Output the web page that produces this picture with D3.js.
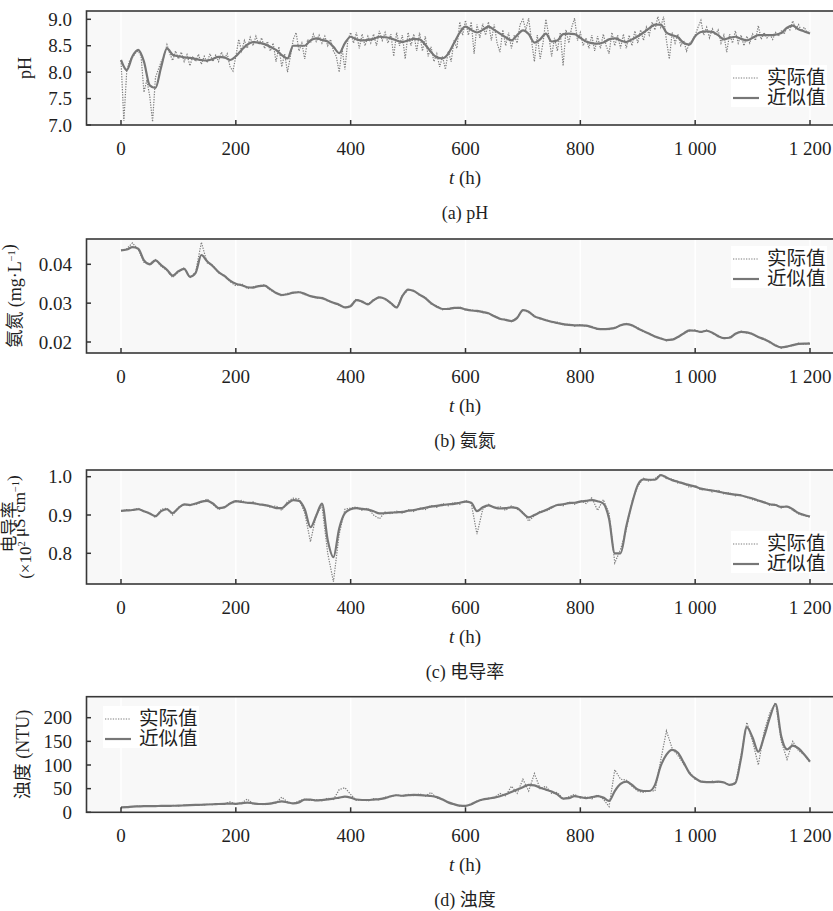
<!DOCTYPE html>
<html><head><meta charset="utf-8">
<script src="https://cdn.jsdelivr.net/npm/d3@7"></script>
<style>
body{margin:0;background:#fff}
svg{display:block}
text{font-family:"Liberation Serif","Times New Roman","Noto Sans CJK SC",serif;fill:#1f1f1f}
</style>
</head><body>
<svg id="chart" width="833" height="911"></svg>
<script>
// ---------------- DATA ----------------
const xTicks = [0, 200, 400, 600, 800, 1000, 1200];
const seriesNames = ["实际值", "近似值"];

// (a) pH — actual every 5 h, approximation every 10 h
const phActual = [
8.22,7.08,8.02,8.22,8.28,8.36,8.40,8.30,7.62,7.85,7.55,7.06,7.90,8.05,8.20,8.30,8.52,8.35,8.22,8.40,8.25,
8.38,8.20,8.33,8.12,8.30,8.20,8.34,8.15,8.30,8.18,8.35,8.20,8.32,8.20,8.38,8.25,8.35,8.10,8.02,8.30,
8.62,8.40,8.60,8.45,8.66,8.50,8.68,8.52,8.65,8.45,8.58,8.40,8.55,8.20,8.48,8.10,8.35,8.00,8.30,8.62,
8.75,8.40,8.55,8.25,8.62,8.55,8.72,8.58,8.70,8.55,8.68,8.50,8.62,8.40,8.30,8.00,8.45,8.05,8.60,8.75,
8.55,8.75,8.45,8.72,8.50,8.68,8.55,8.72,8.50,8.78,8.60,8.75,8.55,8.72,8.30,8.75,8.50,8.70,8.25,8.75,
8.50,8.72,8.40,8.75,8.40,8.68,8.30,8.48,8.20,8.35,8.10,8.30,8.05,8.40,8.20,8.60,8.45,8.95,8.70,8.98,
8.70,8.95,8.35,8.90,8.65,8.92,8.70,8.95,8.60,8.90,8.55,8.38,8.80,8.50,8.75,8.45,8.70,8.55,8.90,9.00,
8.80,9.02,8.60,8.20,8.70,8.25,8.55,9.00,8.70,8.30,8.65,8.40,8.75,8.12,8.80,8.55,8.85,9.02,8.60,8.75,
8.50,8.65,8.45,8.70,8.40,8.68,8.45,8.72,8.50,8.35,8.75,8.50,8.70,8.45,8.72,8.45,8.70,8.50,8.78,8.55,
8.80,8.60,8.85,8.70,8.95,8.80,9.05,8.85,9.05,8.60,8.25,8.75,8.55,8.72,8.50,8.60,8.40,8.55,8.60,8.70,
8.85,8.98,8.70,8.85,8.65,8.82,8.70,8.80,8.55,8.70,8.38,8.72,8.55,8.78,8.55,8.70,8.50,8.68,8.55,8.72,
8.60,8.88,8.62,8.75,8.65,8.72,8.62,8.75,8.68,8.78,8.72,8.85,8.80,8.97,8.82,8.90,8.78,8.85,8.75,8.78
];
const phApprox = [
8.23,
8.04,8.30,8.42,8.20,7.75,7.70,8.10,8.45,8.33,8.30,
8.28,8.27,8.25,8.23,8.22,8.25,8.29,8.28,8.23,8.30,
8.42,8.52,8.57,8.56,8.53,8.48,8.42,8.32,8.26,8.50,
8.50,8.50,8.60,8.64,8.61,8.58,8.48,8.36,8.55,8.67,
8.62,8.60,8.61,8.63,8.67,8.66,8.64,8.60,8.57,8.60,
8.63,8.62,8.52,8.38,8.28,8.26,8.35,8.55,8.75,8.86,
8.80,8.75,8.80,8.86,8.80,8.73,8.66,8.60,8.70,8.79,
8.72,8.56,8.62,8.73,8.58,8.60,8.72,8.73,8.72,8.65,
8.58,8.55,8.54,8.56,8.62,8.64,8.60,8.57,8.62,8.68,
8.75,8.83,8.90,8.90,8.75,8.70,8.66,8.55,8.52,8.68,
8.76,8.77,8.76,8.70,8.62,8.65,8.67,8.63,8.60,8.65,
8.70,8.70,8.70,8.71,8.74,8.84,8.88,8.81,8.77,8.73
];
const phTicks = [7.0, 7.5, 8.0, 8.5, 9.0];

// (b) 氨氮 — every 10 h
const nhActual = [
.0436,
.0440,.0455,.0438,.0405,.0402,.0412,.0395,.0384,.0366,.0380,
.0391,.0365,.0380,.0457,.0404,.0397,.0378,.0372,.0355,.0345,
.0350,.0337,.0342,.0345,.0347,.0333,.0328,.0318,.0325,.0326,
.0330,.0322,.0319,.0313,.0315,.0305,.0302,.0294,.0287,.0295,
.0311,.0302,.0299,.0306,.0317,.0309,.0302,.0286,.0320,.0333,
.0333,.0320,.0315,.0298,.0293,.0283,.0287,.0286,.0290,.0282,
.0283,.0278,.0279,.0272,.0268,.0258,.0259,.0252,.0264,.0283,
.0276,.0268,.0259,.0258,.0250,.0251,.0244,.0246,.0241,.0245,
.0240,.0240,.0232,.0235,.0232,.0238,.0241,.0248,.0241,.0237,
.0226,.0223,.0212,.0211,.0203,.0208,.0211,.0224,.0228,.0231,
.0224,.0231,.0222,.0217,.0208,.0213,.0219,.0228,.0223,.0222,
.0211,.0209,.0198,.0193,.0184,.0190,.0190,.0197,.0194,.0198
];
const nhApprox = [
.0436,
.0438,.0444,.0440,.0410,.0400,.0410,.0398,.0386,.0371,.0382,
.0388,.0368,.0378,.0424,.0408,.0395,.0380,.0370,.0358,.0350,
.0346,.0341,.0340,.0344,.0345,.0336,.0326,.0321,.0323,.0327,
.0328,.0324,.0318,.0315,.0313,.0307,.0301,.0296,.0289,.0292,
.0308,.0304,.0297,.0308,.0315,.0311,.0300,.0289,.0318,.0335,
.0331,.0322,.0313,.0300,.0291,.0285,.0285,.0288,.0288,.0284,
.0281,.0280,.0277,.0274,.0266,.0260,.0257,.0254,.0262,.0282,
.0278,.0266,.0261,.0256,.0252,.0249,.0246,.0244,.0243,.0243,
.0242,.0238,.0234,.0233,.0234,.0236,.0243,.0246,.0243,.0235,
.0228,.0221,.0214,.0209,.0205,.0206,.0213,.0222,.0230,.0229,
.0226,.0229,.0224,.0215,.0210,.0211,.0221,.0226,.0225,.0220,
.0213,.0207,.0200,.0191,.0186,.0188,.0192,.0195,.0196,.0196
];
const nhTicks = [0.02, 0.03, 0.04];

// (c) 电导率 — every 10 h
const ecActual = [
.910,
.914,.912,.918,.908,.906,.893,.915,.918,.900,.920,
.926,.928,.927,.933,.942,.928,.914,.922,.931,.934,
.938,.930,.934,.926,.928,.920,.924,.912,.935,.944,
.942,.905,.830,.900,.925,.800,.726,.850,.915,.918,
.921,.912,.918,.900,.890,.908,.903,.910,.905,.914,
.909,.918,.914,.925,.920,.930,.924,.933,.928,.938,
.930,.850,.915,.928,.918,.922,.912,.924,.915,.908,
.884,.898,.910,.910,.918,.928,.924,.934,.928,.938,
.930,.945,.912,.940,.905,.775,.810,.862,.935,.975,
.996,.988,.995,1.006,.995,.994,.983,.985,.972,.977,
.965,.968,.960,.965,.955,.958,.950,.953,.946,.940,
.936,.935,.925,.928,.918,.924,.912,.903,.898,.895
];
const ecApprox = [
.911,
.912,.913,.915,.910,.904,.897,.910,.915,.905,.918,
.928,.926,.930,.935,.937,.930,.918,.920,.930,.936,
.934,.932,.931,.928,.926,.923,.918,.918,.930,.939,
.937,.915,.868,.898,.930,.835,.790,.865,.905,.915,
.918,.916,.914,.910,.904,.905,.906,.907,.908,.911,
.913,.916,.919,.922,.924,.926,.928,.929,.932,.935,
.932,.910,.920,.925,.920,.917,.918,.920,.918,.905,
.894,.900,.907,.913,.920,.926,.928,.931,.932,.935,
.937,.939,.936,.930,.890,.800,.800,.870,.930,.978,
.993,.992,.992,1.004,.998,.991,.987,.982,.978,.974,
.969,.966,.964,.961,.958,.955,.953,.951,.947,.943,
.938,.933,.928,.926,.921,.922,.915,.905,.900,.896
];
const ecTicks = [0.8, 0.9, 1.0];

// (d) 浊度 — every 10 h
const tuActual = [
10,
11.5,12,13,12.5,13.5,13,14,13,14.5,13.5,
15,14.5,16,15,17,16,18.5,17.5,22,17,
20,28,18,18,16,19,20,32,22,18,
24,28,25,27,24,30,27,48,52,38,
25,27,24,29,26,32,33,37,34,38,
35,39,34,42,30,28,20,18,13,14,
16,24,26,30,31,40,35,55,40,70,
45,82,50,55,40,42,28,33,38,30,
33,28,37,28,12,90,70,68,55,45,
42,46,45,110,172,135,120,102,85,70,
66,63,66,63,65,57,60,120,190,150,
100,170,210,232,150,112,150,130,122,105
];
const tuApprox = [
10.6,
11,12,12.5,13,13,13.2,13.5,13.6,13.8,14,
14.5,15,15.5,16,16.5,17,17.5,18,18.5,18,
19,20.5,19,17.5,17.5,18.5,21,23,21,19,
21,27,27,25,26,27.5,29,31,33,31,
27,26,26,27,28,30,34,36,35,36,
37,36.5,35.5,34.5,32,27,21,17,14,13.5,
17,23,27,29,31,34,38,43,48,53,
58,57,52,48,44,38,29,30,34,32,
30,32,34,31,24,45,60,65,58,48,
45,45,58,98,122,132,126,105,83,72,
65,64,64,65,63,58,62,115,180,158,
128,160,200,229,160,133,141,135,122,107
];
const tuTicks = [0, 50, 100, 150, 200];

// ---------------- LAYOUT ----------------
const FONT = "'Liberation Serif','Times New Roman','Noto Sans CJK SC',serif";
const svg = d3.select("#chart");
const plotL = 86.5, plotR = 840;
const x = d3.scaleLinear().domain([0, 1200]).range([121, 810]);
const fmtX = d => d >= 1000 ? d3.format(",")(d).replace(",", " ") : String(d);

const panels = [
  { actual: phActual, aStep: 5, approx: phApprox, pStep: 10, top: 11, bottom: 125,
    domain: [7, 9], range: [125, 19.3], ticks: phTicks, fmt: d3.format(".1f"),
    legend: { x: 733, y: 84 }, caption: "(a) pH",
    title: [{ x: 31, size: 18, parts: [["pH"]] }] },
  { actual: nhActual, aStep: 10, approx: nhApprox, pStep: 10, top: 239, bottom: 353,
    domain: [0.02, 0.04], range: [342, 264.3], ticks: nhTicks, fmt: d3.format(".2f"),
    legend: { x: 733, y: 265 }, caption: "(b) 氨氮",
    title: [{ x: 21, size: 18, parts: [["氨氮 (mg·L"], ["−1", "sup"], [")"]] }] },
  { actual: ecActual, aStep: 10, approx: ecApprox, pStep: 10, top: 470, bottom: 584,
    domain: [0.8, 1.0], range: [553.3, 476.7], ticks: ecTicks, fmt: d3.format(".1f"),
    legend: { x: 733, y: 550 }, caption: "(c) 电导率",
    title: [{ x: 15, size: 17, parts: [["电导率"]] },
            { x: 31, size: 17, parts: [["(×10"], ["2", "sup"], [" μS·cm"], ["−1", "sup"], [")"]] }] },
  { actual: tuActual, aStep: 10, approx: tuApprox, pStep: 10, top: 696.7, bottom: 812.3,
    domain: [0, 200], range: [812.3, 717.7], ticks: tuTicks, fmt: d3.format("d"),
    legend: { x: 105, y: 725 }, caption: "(d) 浊度",
    title: [{ x: 29, size: 18, parts: [["浊度 (NTU)"]] }] }
];

const defs = svg.append("defs");

panels.forEach((p, i) => {
  const y = d3.scaleLinear().domain(p.domain).range(p.range);
  const g = svg.append("g").attr("font-family", FONT);
  const h = p.bottom - p.top;

  defs.append("clipPath").attr("id", "clip" + i)
    .append("rect").attr("x", plotL).attr("y", p.top).attr("width", plotR - plotL).attr("height", h);

  // background
  g.append("rect").attr("x", plotL).attr("y", p.top).attr("width", plotR - plotL).attr("height", h)
    .attr("fill", "#f8f8f8");
  // faint grid
  g.selectAll(".grid").data(xTicks).join("line")
    .attr("x1", d => x(d)).attr("x2", d => x(d)).attr("y1", p.top).attr("y2", p.bottom)
    .attr("stroke", "#ffffff").attr("stroke-width", 1.5);

  const plot = g.append("g").attr("clip-path", `url(#clip${i})`);
  const lineA = d3.line().x((d, j) => x(j * p.aStep)).y(d => y(d)).curve(d3.curveLinear);
  const lineP = d3.line().x((d, j) => x(j * p.pStep)).y(d => y(d)).curve(d3.curveMonotoneX);

  plot.append("path").datum(p.actual).attr("d", lineA)
    .attr("fill", "none").attr("stroke", "#7d7d7d").attr("stroke-width", 1.2)
    .attr("stroke-dasharray", "1.3,1.3");
  plot.append("path").datum(p.approx).attr("d", lineP)
    .attr("fill", "none").attr("stroke", "#777").attr("stroke-width", 2.2);

  // ticks (inward)
  g.selectAll(".xt").data(xTicks).join("line")
    .attr("x1", d => x(d)).attr("x2", d => x(d)).attr("y1", p.bottom).attr("y2", p.bottom - 5)
    .attr("stroke", "#333").attr("stroke-width", 1.5);
  g.selectAll(".yt").data(p.ticks).join("line")
    .attr("x1", plotL).attr("x2", plotL + 4.5).attr("y1", d => y(d)).attr("y2", d => y(d))
    .attr("stroke", "#333").attr("stroke-width", 1.5);

  // frame
  g.append("rect").attr("x", plotL).attr("y", p.top).attr("width", plotR - plotL).attr("height", h)
    .attr("fill", "none").attr("stroke", "#383838").attr("stroke-width", 1.6);

  // tick labels
  g.selectAll(".xl").data(xTicks).join("text")
    .attr("x", d => x(d)).attr("y", p.bottom + 30).attr("text-anchor", "middle")
    .attr("font-family", FONT).attr("font-size", 19).text(fmtX);
  g.selectAll(".yl").data(p.ticks).join("text")
    .attr("x", 72).attr("y", d => y(d)).attr("dy", "0.35em").attr("text-anchor", "end")
    .attr("font-family", FONT).attr("font-size", 19).text(p.fmt);

  // x title
  const xt = g.append("text").attr("x", 465).attr("y", p.bottom + 59).attr("text-anchor", "middle")
    .attr("font-family", FONT).attr("font-size", 19);
  xt.append("tspan").attr("font-style", "italic").text("t");
  xt.append("tspan").text(" (h)");

  // caption
  g.append("text").attr("x", 465).attr("y", p.bottom + 94).attr("text-anchor", "middle")
    .attr("font-family", FONT).attr("font-size", 18).text(p.caption);

  // y title
  const cy = (p.top + p.bottom) / 2;
  p.title.forEach(tl => {
    const t = g.append("text").attr("transform", `translate(${tl.x},${cy}) rotate(-90)`)
      .attr("text-anchor", "middle").attr("font-family", FONT).attr("font-size", tl.size);
    tl.parts.forEach(pt => {
      if (pt[1] === "sup") {
        t.append("tspan").attr("dy", -6).attr("font-size", 10.5).text(pt[0]);
        t.append("tspan").attr("dy", 6).text("");
      } else {
        t.append("tspan").text(pt[0]);
      }
    });
  });

  // legend
  const lg = g.append("g");
  lg.append("rect").attr("x", p.legend.x - 2).attr("y", p.legend.y - 19)
    .attr("width", 96).attr("height", 42).attr("fill", "#fff");
  seriesNames.forEach((name, k) => {
    const yy = p.legend.y + k * 20;
    lg.append("line").attr("x1", p.legend.x).attr("x2", p.legend.x + 26)
      .attr("y1", yy - 6).attr("y2", yy - 6)
      .attr("stroke", k === 0 ? "#7d7d7d" : "#777")
      .attr("stroke-width", k === 0 ? 1.2 : 2.2)
      .attr("stroke-dasharray", k === 0 ? "1.3,1.3" : null);
    lg.append("text").attr("x", p.legend.x + 34).attr("y", yy)
      .attr("font-family", FONT).attr("font-size", 19.5).text(name);
  });
});
</script>
</body></html>
